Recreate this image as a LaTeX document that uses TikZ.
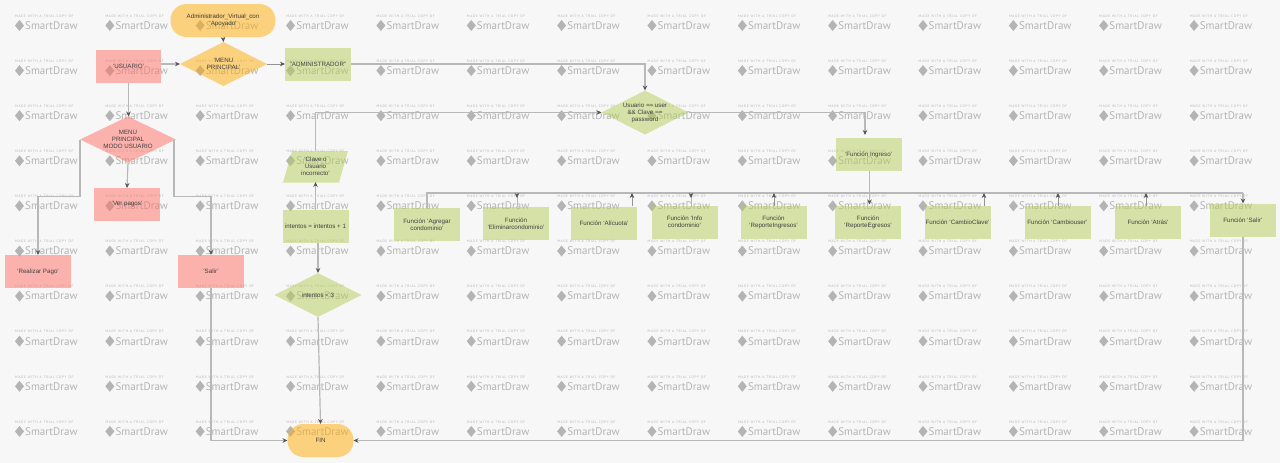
\documentclass[tikz,border=0pt]{standalone}
\usepackage{fontspec}
\setmainfont{Liberation Sans}
\newfontfamily\wmfont{PT Sans}
\usetikzlibrary{shapes.geometric,arrows.meta}
\definecolor{bgc}{HTML}{F7F7F7}
\definecolor{orangec}{HTML}{FFAD05}
\definecolor{pinkc}{HTML}{FF6F65}
\definecolor{greenc}{HTML}{B5CD59}
\definecolor{linec}{HTML}{B8B8B8}
\definecolor{tipc}{HTML}{555555}
\definecolor{wmc}{HTML}{B4B4B4}
\definecolor{txtc}{HTML}{404040}
\tikzset{
  x=1pt,y=-1pt,
  base/.style={fill opacity=0.5,text opacity=1,text=txtc,font=\fontsize{6.2}{7}\selectfont,align=center,inner sep=0pt,outer sep=0pt},
  boxg/.style={base,rectangle,fill=greenc,minimum width=66pt,minimum height=33pt},
  boxp/.style={base,rectangle,fill=pinkc,minimum width=66pt,minimum height=33pt},
  diag/.style={base,diamond,aspect=2,fill=greenc,minimum width=87pt,minimum height=44pt},
  diao/.style={base,diamond,aspect=2,fill=orangec,minimum width=87pt,minimum height=44pt},
  diap/.style={base,diamond,aspect=2,fill=pinkc,minimum width=96pt,minimum height=48pt},
  term/.style={base,rectangle,rounded corners=16pt,fill=orangec,minimum width=66pt,minimum height=33pt},
  conn/.style={draw=linec,line width=1.2pt,-{Stealth[length=5pt,width=4.5pt,color=tipc]}},
  thinconn/.style={draw=linec!80!black,line width=.7pt,-{Stealth[length=5pt,width=4.5pt,color=tipc]}},
  plain/.style={draw=linec,line width=1.2pt},
  wmtop/.style={text=wmc,font=\wmfont\fontsize{3.5}{4}\selectfont,inner sep=0pt,anchor=west},
  wmlogo/.style={text=wmc,font=\wmfont\fontsize{11}{12}\selectfont,inner sep=0pt,anchor=west},
}
\begin{document}
\begin{tikzpicture}
\useasboundingbox (0,0) rectangle (1280,463);
\fill[bgc] (0,0) rectangle (1280,463);
% watermark
\foreach \c in {0,...,13}{
  \foreach \r in {0,...,9}{
    \pgfmathsetmacro{\wx}{15+90.35*\c}
    \pgfmathsetmacro{\wy}{16+45.1*\r}
    \node[wmtop] (wmt\c-\r) at (\wx,\wy) {M\,A\,D\,E\ \ W\,I\,T\,H\ \ A\ \ T\,R\,I\,A\,L\ \ C\,O\,P\,Y\ \ O\,F};
    \node[wmlogo] (wml\c-\r) at (\wx+10,\wy+9.5) {SmartDraw};
    \fill[wmc] (\wx,\wy+9.5) -- (\wx+4.5,\wy+4) -- (\wx+9,\wy+9.5) -- (\wx+4.5,\wy+15) -- cycle;
  }
}
% shapes
\node[term,minimum width=105pt] (start) at (223,20.5) {Administrador\_Virtual\_con\\`Apoyado'};
\node[diao] (menu) at (223.5,64) {`MENU\\PRINCIPAL'};
\node[boxp,minimum width=65pt] (usuario) at (128.5,66.5) {`USUARIO'};
\node[boxg] (admin) at (318,64) {``ADMINISTRADOR''};
\node[diap,minimum width=96pt,minimum height=46pt] (menuu) at (128,139.5) {MENU\\PRINCIPAL\\MODO USUARIO};
\node[boxp] (verpago) at (127,204.5) {`Ver pagos'};
\node[boxp] (pago) at (38,271.5) {`Realizar Pago'};
\node[boxp] (salir) at (211,271.5) {`Salir'};
\fill[greenc,fill opacity=0.5] (292,151) -- (348,151) -- (339,182.5) -- (283,182.5) -- cycle;
\node[base,minimum width=56pt,minimum height=31pt] (para) at (315.5,166.5) {`Clave o\\Usuario\\incorrecto'};
\node[boxg,minimum width=66pt] (inc) at (315.5,226) {intentos = intentos + 1};
\node[diag] (dint) at (318,295) {intentos < 3};
\node[diag] (cred) at (645,112.5) {Usuario == user\\\&\& Clave ==\\password};
\node[boxg] (ingreso) at (868.5,154.5) {`Función Ingreso'};
\node[boxg] (f1) at (427,224.5) {Función `Agregar\\condominio'};
\node[boxg] (f2) at (516,223.5) {Función\\`Eliminarcondominio'};
\node[boxg] (f3) at (604,223.5) {Función `Alícuota'};
\node[boxg] (f4) at (684.5,222) {Función `Info\\condominio'};
\node[boxg] (f5) at (773.5,222) {Función\\`ReporteIngresos'};
\node[boxg] (f6) at (868,222) {Función\\`ReporteEgresos'};
\node[boxg] (f7) at (957.5,222.5) {Función `CambioClave'};
\node[boxg] (f8) at (1057.5,222.5) {Función `Cambiouser'};
\node[boxg] (f9) at (1148,222) {Función `Atrás'};
\node[boxg] (f10) at (1243,220) {Función `Salir'};
\node[term] (fin) at (320.5,440.5) {FIN};
% connectors
\draw[conn] (usuario.east |- menu.west) -- (menu.west);
\draw[thinconn] (start.south) -- (menu.north);
\draw[thinconn] (menu.east) -- (admin.west);
\draw[conn] (usuario.south) -- (usuario.south |- menuu.north);
\draw[conn] (menuu.south) -- (verpago.north);
\draw[conn] (menuu.west) -- (80,196.5) -- (pago.north |- 0,196.5) -- (pago.north);
\draw[conn] (menuu.east) ++(-2,0) -- (174,196.5) -- (salir.north |- 0,196.5) -- (salir.north);
\draw[conn] (salir.south) -- (salir.south |- fin.west) -- (fin.west);
\draw[conn] (admin.east) -- (cred.north |- admin.east) -- (cred.north);
\draw[conn] (para.north) -- (para.north |- cred.west) -- (cred.west);
\draw[conn] (cred.east) -- (865,112.5) -- (865,135);
\draw[conn] (inc.north) -- (para.south);
\draw[conn] (inc.south -| dint.north) -- (dint.north);
\draw[conn] (dint.south) -- (fin.north);
\draw[conn] (f10.south) -- (f10.south |- fin.east) -- (fin.east);
\draw[conn] (ingreso.south) ++(1,0) -- ++(0,33.5);
% bus joining the function boxes
\coordinate (busl) at (427,193);
\coordinate (busr) at (1243,193);
\draw[plain] (f1.north) -- (busl) -- (busr);
\draw[conn] (busr) -- (f10.north);
\foreach \f/\bx in {f2/517,f4/691}{
  \draw[plain,line width=.6pt] (\bx,193) -- (\bx,206);
  \draw[thinconn] (\bx,193) -- (\bx,198);
}
\foreach \f/\bx in {f3/632,f5/774,f7/984,f8/1058,f9/1146}{
  \draw[thinconn] (\bx,206) -- (\bx,193);
}
\end{tikzpicture}
\end{document}
